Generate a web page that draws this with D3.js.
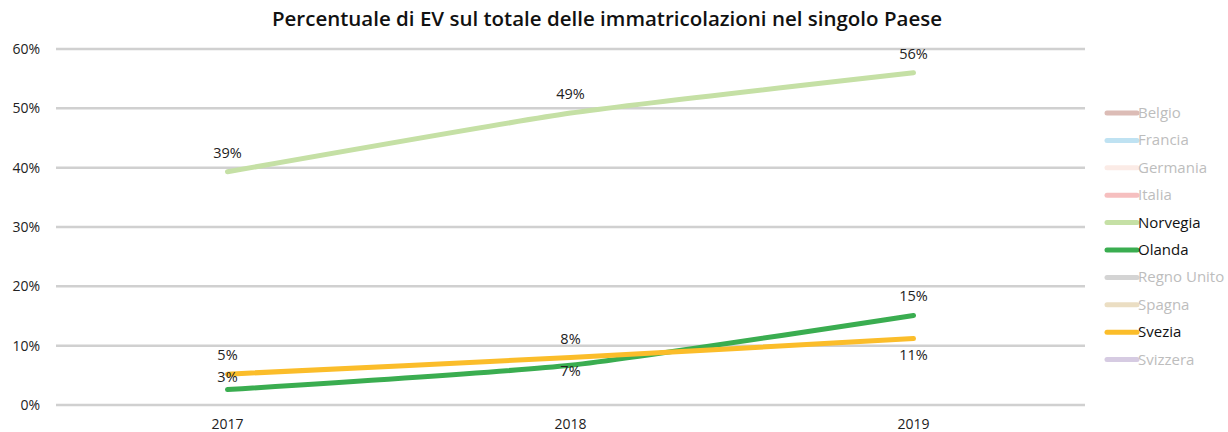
<!DOCTYPE html>
<html>
<head>
  <meta charset="UTF-8">
  <style>
    body { margin: 0; background: #fff; }
    svg { font-family: "Open Sans", "Noto Sans", sans-serif; }
  </style>
</head>
<body>
  <svg></svg>
  <script src="https://d3js.org/d3.v7.min.js"></script>
  <script>
    // data
    let years = ["2017", "2018", "2019"];
    let countries = ["Belgio", "Francia", "Germania", "Italia", "Norvegia", "Olanda", "Regno Unito", "Spagna", "Svezia", "Svizzera"];
    let colors = ["#dcbcb6", "#bfe2f2", "#fbebe6", "#f6bfbf", "#c5e0a5", "#3aad50", "#d4d4d4", "#ebdec3", "#fbbd2a", "#d6cbe2"];
    let visible = ["Norvegia", "Olanda", "Svezia"];
    let norvegia = [39.3, 49.2, 56.0];
    let olanda = [2.6, 6.7, 15.1];
    let svezia = [5.2, 8.0, 11.2];
    let yTicks = [0, 10, 20, 30, 40, 50, 60];
    // label placement
    let norvegiaPos = ["above", "above", "above"];
    let olandaPos = ["close-above", "close-below", "above"];
    let sveziaPos = ["above", "above", "below"];

    let width = 1228, height = 432;
    let svg = d3.select("svg").attr("width", width).attr("height", height);

    let x = d3.scaleBand().domain(years).range([56, 1085]);
    let y = d3.scaleLinear().domain([0, 60]).range([405, 49]);
    let labelShift = { "above": -14, "close-above": -8, "below": 21, "close-below": 11 };

    svg.append("text")
      .attr("x", 607).attr("y", 26)
      .attr("text-anchor", "middle")
      .style("font-size", "20.5px").style("font-weight", "600")
      .attr("fill", "#111")
      .text("Percentuale di EV sul totale delle immatricolazioni nel singolo Paese");

    // grid
    svg.append("g").selectAll("line").data(yTicks).enter().append("line")
      .attr("x1", 56).attr("x2", 1085)
      .attr("y1", d => y(d)).attr("y2", d => y(d))
      .attr("stroke", "#d0d0d0").attr("stroke-width", 2.5);

    svg.append("g").selectAll("text").data(yTicks).enter().append("text")
      .attr("x", 40).attr("y", d => y(d) + 5)
      .attr("text-anchor", "end")
      .style("font-size", "14px").attr("fill", "#222")
      .text(d => d + "%");

    svg.append("g").selectAll("text").data(years).enter().append("text")
      .attr("x", d => x(d) + x.bandwidth() / 2).attr("y", 429)
      .attr("text-anchor", "middle")
      .style("font-size", "14px").attr("fill", "#222")
      .text(d => d);

    let series = [
      { name: "Norvegia", values: norvegia, pos: norvegiaPos },
      { name: "Olanda", values: olanda, pos: olandaPos },
      { name: "Svezia", values: svezia, pos: sveziaPos }
    ];

    let line = d3.line()
      .x((d, i) => x(years[i]) + x.bandwidth() / 2)
      .y(d => y(d))
      .curve(d3.curveCardinal.tension(0.5));

    series.forEach(s => {
      let c = colors[countries.indexOf(s.name)];
      svg.append("path")
        .datum(s.values)
        .attr("d", line)
        .attr("fill", "none")
        .attr("stroke", c)
        .attr("stroke-width", 5)
        .attr("stroke-linecap", "round");
    });

    series.forEach(s => {
      svg.append("g").selectAll("text").data(s.values).enter().append("text")
        .attr("x", (d, i) => x(years[i]) + x.bandwidth() / 2)
        .attr("y", (d, i) => y(d) + labelShift[s.pos[i]])
        .attr("text-anchor", "middle")
        .style("font-size", "14.5px").attr("fill", "#222")
        .text(d => Math.round(d) + "%");
    });

    // legend
    let legend = svg.append("g").selectAll("g").data(countries).enter().append("g")
      .attr("transform", (d, i) => "translate(1107," + (113 + i * 27.4) + ")");
    legend.append("line")
      .attr("x1", 0).attr("x2", 30)
      .attr("stroke", (d, i) => colors[i])
      .attr("stroke-width", 5).attr("stroke-linecap", "round");
    legend.append("text")
      .attr("x", 31).attr("y", 5)
      .style("font-size", "15px")
      .attr("fill", d => visible.includes(d) ? "#111" : "#bdbdbd")
      .text(d => d);
  </script>
</body>
</html>
